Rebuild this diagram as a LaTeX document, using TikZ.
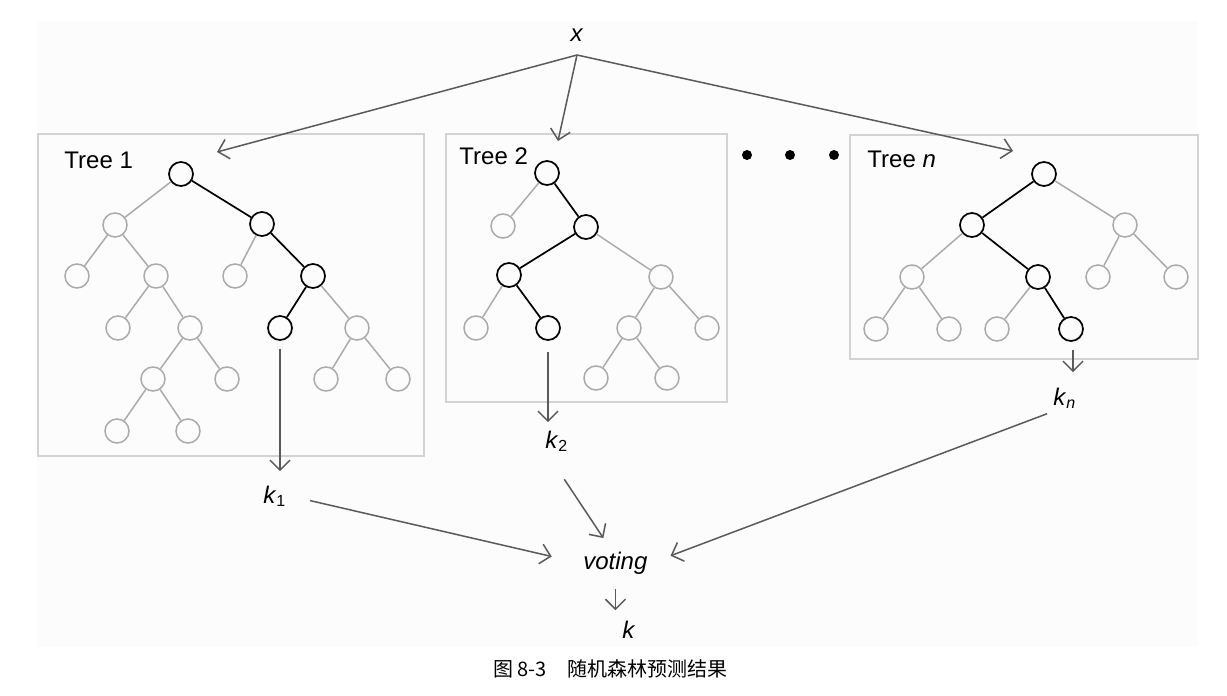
\documentclass[tikz,border=0pt]{standalone}
\usepackage{fontspec}
\setmainfont{Liberation Sans}
\newfontfamily\cjk{Noto Sans CJK SC}
\usepackage{xcolor}
\usetikzlibrary{positioning,arrows.meta}
\definecolor{arrowgray}{HTML}{5A5A5A}
\definecolor{nodegray}{HTML}{ABABAB}
\definecolor{boxgray}{HTML}{D3D3D3}
\definecolor{bggray}{HTML}{FCFCFC}

\begin{document}
\begin{tikzpicture}[
  x=0.5pt, y=-0.5pt,
  >={Straight Barb[length=5pt,width=10pt]},
  gnode/.style={circle, draw=nodegray, line width=0.75pt, minimum size=12pt, inner sep=0pt},
  bnode/.style={circle, draw=black, line width=0.85pt, minimum size=12pt, inner sep=0pt},
  gedge/.style={draw=nodegray, line width=0.75pt},
  bedge/.style={draw=black, line width=0.85pt},
  treebox/.style={rectangle, draw=boxgray, line width=0.9pt, inner sep=0pt},
  lbl/.style={font=\fontsize{12}{14}\selectfont, inner sep=2pt},
  arr/.style={draw=arrowgray, line width=0.75pt, ->},
  dotnode/.style={circle, fill=black, inner sep=0pt, minimum size=5pt}
]
\useasboundingbox (0,0) rectangle (1227,696);
\fill[bggray] (37,21) rectangle (1198,647);

\node[treebox, minimum width=193pt, minimum height=161pt] (box1) at (231,295) {};
\node[treebox, minimum width=140.5pt, minimum height=134pt] (box2) at (586.5,268) {};
\node[treebox, minimum width=174pt, minimum height=112pt] (boxn) at (1024,247) {};

\node[lbl, anchor=base west] (tl1) at (60,168) {Tree 1};
\node[lbl, anchor=base west] (tl2) at (455,164) {Tree 2};
\node[lbl, anchor=base west] (tln) at (863,167) {Tree \textit{n}};

\node[dotnode] (d1) at (747,155) {};
\node[dotnode] (d2) at (790,155) {};
\node[dotnode] (d3) at (834,155) {};

% tree 1
\node[bnode] (a0) at (181,174) {};
\node[gnode] (a1) at (115,225) {};
\node[bnode] (a2) at (262,224) {};
\node[gnode] (a3) at (77,276) {};
\node[gnode] (a4) at (156,276) {};
\node[gnode] (a5) at (235,276) {};
\node[bnode] (a6) at (313,276) {};
\node[gnode] (a7) at (118,328) {};
\node[gnode] (a8) at (190,328) {};
\node[bnode] (a9) at (280,328) {};
\node[gnode] (a10) at (357,328) {};
\node[gnode] (a11) at (153,379) {};
\node[gnode] (a12) at (227,379) {};
\node[gnode] (a13) at (326,379) {};
\node[gnode] (a14) at (398,379) {};
\node[gnode] (a15) at (117,431) {};
\node[gnode] (a16) at (188,431) {};

\draw[gedge] (a0) -- (a1);
\draw[bedge] (a0) -- (a2);
\draw[gedge] (a1) -- (a3);
\draw[gedge] (a1) -- (a4);
\draw[gedge] (a2) -- (a5);
\draw[bedge] (a2) -- (a6);
\draw[gedge] (a4) -- (a7);
\draw[gedge] (a4) -- (a8);
\draw[bedge] (a6) -- (a9);
\draw[gedge] (a6) -- (a10);
\draw[gedge] (a8) -- (a11);
\draw[gedge] (a8) -- (a12);
\draw[gedge] (a10) -- (a13);
\draw[gedge] (a10) -- (a14);
\draw[gedge] (a11) -- (a15);
\draw[gedge] (a11) -- (a16);

% tree 2
\node[bnode] (b0) at (547,173) {};
\node[gnode] (b1) at (503,226) {};
\node[bnode] (b2) at (586,227) {};
\node[bnode] (b3) at (509,275) {};
\node[gnode] (b4) at (661,277) {};
\node[gnode] (b5) at (476,328) {};
\node[bnode] (b6) at (548,328) {};
\node[gnode] (b7) at (629,328) {};
\node[gnode] (b8) at (707,328) {};
\node[gnode] (b9) at (596,378) {};
\node[gnode] (b10) at (667,378) {};

\draw[gedge] (b0) -- (b1);
\draw[bedge] (b0) -- (b2);
\draw[bedge] (b2) -- (b3);
\draw[gedge] (b2) -- (b4);
\draw[gedge] (b3) -- (b5);
\draw[bedge] (b3) -- (b6);
\draw[gedge] (b4) -- (b7);
\draw[gedge] (b4) -- (b8);
\draw[gedge] (b7) -- (b9);
\draw[gedge] (b7) -- (b10);

% tree n
\node[bnode] (c0) at (1044,174) {};
\node[bnode] (c1) at (972,225) {};
\node[gnode] (c2) at (1125,225) {};
\node[gnode] (c3) at (912,277) {};
\node[bnode] (c4) at (1038,277) {};
\node[gnode] (c5) at (1098,277) {};
\node[gnode] (c6) at (1176,277) {};
\node[gnode] (c7) at (876,329) {};
\node[gnode] (c8) at (949,329) {};
\node[gnode] (c9) at (997,329) {};
\node[bnode] (c10) at (1071,329) {};

\draw[bedge] (c0) -- (c1);
\draw[gedge] (c0) -- (c2);
\draw[gedge] (c1) -- (c3);
\draw[bedge] (c1) -- (c4);
\draw[gedge] (c2) -- (c5);
\draw[gedge] (c2) -- (c6);
\draw[gedge] (c3) -- (c7);
\draw[gedge] (c3) -- (c8);
\draw[gedge] (c4) -- (c9);
\draw[bedge] (c4) -- (c10);

% input and votes
\node[lbl, anchor=south, inner ysep=6.5pt] (x) at (577,55) {\textit{x}};
\coordinate (in1) at (217,152);
\coordinate (in2) at (558,141);
\coordinate (inn) at (1013,151);
\draw[arr] (x.south) -- (in1);
\draw[arr] (x.south) -- (in2);
\draw[arr] (x.south) -- (inn);

\node[lbl, anchor=base west] (k1) at (259,503) {\textit{k}\textsubscript{1}};
\node[lbl, anchor=base west] (k2) at (541,448) {\textit{k}\textsubscript{2}};
\node[lbl, anchor=base west] (kn) at (1049,405) {\textit{k}\textsubscript{\textit{n}}};
\node[lbl, anchor=base west] (voting) at (579,569) {\textit{voting}};
\node[lbl, anchor=base west] (k) at (618,638) {\textit{k}};

\draw[arr, shorten <=4pt, shorten >=5pt] (a9.south) -- (a9.south |- k1.north);
\draw[arr, shorten <=5.5pt, shorten >=2pt] (b6.south) -- (b6.south |- k2.north);
\draw[arr, shorten <=4pt, shorten >=5.5pt] ([xshift=1pt]c10.south) -- ([xshift=1pt]c10.south |- kn.north);

\draw[arr, shorten <=10pt, shorten >=14pt] (k1.east) -- (voting.west);
\draw[arr, shorten <=14pt, shorten >=5.5pt] ([xshift=-4pt]k2.south) -- ([xshift=-3pt]voting.north);
\draw[arr, shorten <=1pt, shorten >=10pt] (kn.south west) -- (voting.east);
\draw[arr, shorten <=5.5pt, shorten >=3pt] (voting.south) -- (voting.south |- k.north);

\node[anchor=base west, inner sep=0pt, font=\cjk\fontsize{10}{12}\selectfont] (cap) at (493,676) {图 8-3\quad 随机森林预测结果};
\end{tikzpicture}
\end{document}
